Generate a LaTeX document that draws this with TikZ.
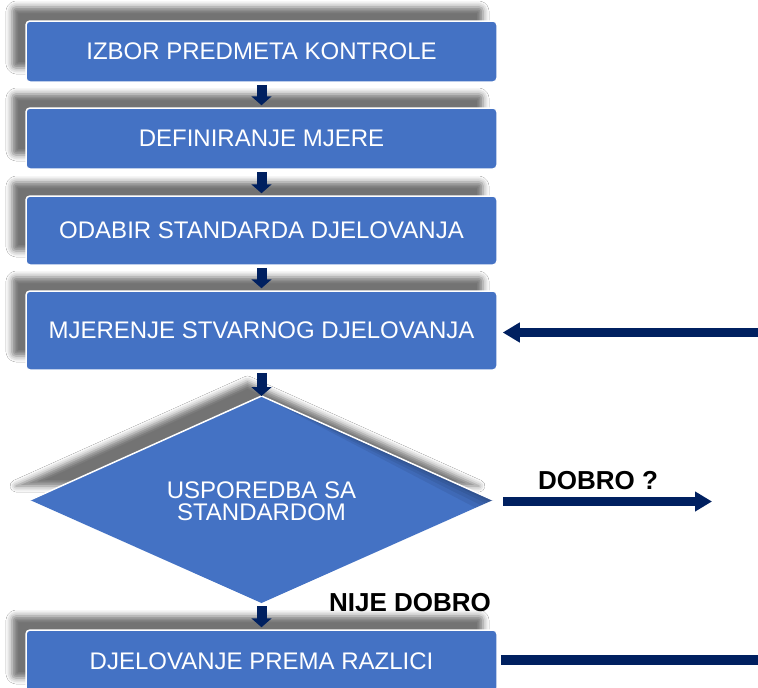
\documentclass[tikz,border=0pt]{standalone}
\usepackage{fontspec}
\setmainfont{Liberation Sans}
\usetikzlibrary{arrows.meta,shadows.blur,calc}
\definecolor{boxblue}{HTML}{4472C4}
\definecolor{navy}{HTML}{002060}
\begin{document}
\begin{tikzpicture}[x=1pt,y=-1pt]
\tikzset{
  shadowfx/.style={blur shadow={shadow xshift=-14pt, shadow yshift=14pt, shadow blur radius=6pt, shadow opacity=55}},
  stepbox/.style={rectangle, rounded corners=4pt, fill=boxblue, draw=white, line width=1.5pt,
    text=white, font=\fontsize{24}{26}\selectfont, minimum width=471pt, inner sep=0pt, shadowfx},
  downarrow/.style={draw=navy, line width=10pt, -{Triangle[length=9pt,width=20pt]}},
  bigarrow/.style={draw=navy, line width=9pt, -{Triangle[length=17pt,width=19pt]}},
  lbl/.style={inner sep=0pt, font=\bfseries\fontsize{26}{28}\selectfont, text=black},
}
\fill[white] (0,0) rectangle (758,688);
\useasboundingbox (0,0) rectangle (758,688);

% boxes
\node[stepbox, minimum height=61pt] (b1) at (261.5,51.5) {IZBOR PREDMETA KONTROLE};
\node[stepbox, minimum height=61pt] (b2) at (261.5,138.5) {DEFINIRANJE MJERE};
\node[stepbox, minimum height=69pt] (b3) at (261.5,230.5) {ODABIR STANDARDA DJELOVANJA};
\node[stepbox, minimum height=79pt] (b4) at (261.5,330.5) {MJERENJE STVARNOG DJELOVANJA};
\node[stepbox, minimum height=62pt] (b5) at (261.5,661) {DJELOVANJE PREMA RAZLICI};

% decision diamond
\coordinate (dN) at (261.5,396);
\coordinate (dW) at (30,500);
\coordinate (dE) at (493,500);
\coordinate (dS) at (261.5,603);
\fill[boxblue, shadowfx] (dW) -- (dN) -- (dE) -- cycle;
\fill[boxblue] (dW) -- (dN) -- (dE) -- (dS) -- cycle;
\begin{scope}
  \clip (dW) -- (dN) -- (dE) -- (dS) -- cycle;
  \foreach \d in {3,6,10,15}
    \fill[black, opacity=0.07] (dN) -- (dE) -- ($(dE)+(-0.411*\d,0.912*\d)$) -- cycle;
\end{scope}
\draw[white, line width=1.5pt] (dW) -- (dN) -- (dE);
\node[text=white, align=center, inner sep=0pt, font=\fontsize{24}{22}\selectfont] (dia) at (261.5,501) {USPOREDBA SA\\STANDARDOM};

% vertical arrows
\draw[downarrow] ($(b1.south)+(0,2)$) -- ($(b2.north)+(0,-2)$);
\draw[downarrow] ($(b2.south)+(0,2)$) -- ($(b3.north)+(0,-2)$);
\draw[downarrow] ($(b3.south)+(0,2)$) -- ($(b4.north)+(0,-2)$);
\draw[downarrow] ($(b4.south)+(0,2)$) -- (dN);
\draw[downarrow] ($(dS)+(0,3)$) -- ($(b5.north)+(0,-2)$);

% horizontal arrows and labels
\coordinate (okend) at (712,501.5);
\draw[bigarrow] ($(dE)+(10,1.5)$) -- (okend);
\node[lbl] (dobro) at (598,480.5) {DOBRO ?};
\node[lbl] (nije) at (410,603) {NIJE DOBRO};

\coordinate (fb) at (758,332.5);
\draw[bigarrow] (fb) -- ($(b4.east |- fb)+(5,0)$);

\coordinate (out5) at (758,660);
\draw[navy, line width=9.5pt] ($(b5.east |- out5)+(3,0)$) -- (out5);
\end{tikzpicture}
\end{document}
